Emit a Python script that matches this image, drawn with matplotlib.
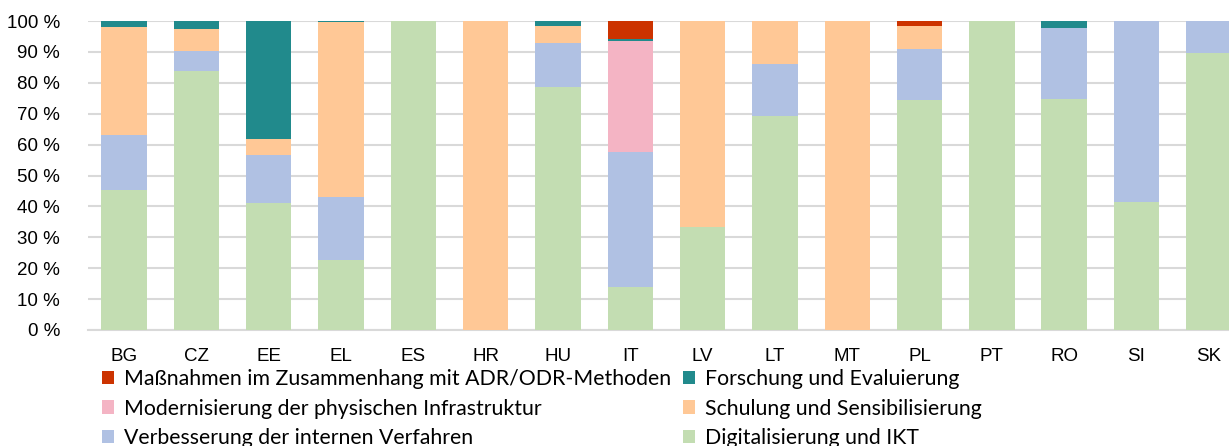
import numpy as np
import matplotlib
matplotlib.use('Agg')
from matplotlib import pyplot as plt
from matplotlib.patches import Patch

# data (percent shares per country)
countries = ['BG', 'CZ', 'EE', 'EL', 'ES', 'HR', 'HU', 'IT', 'LV', 'LT', 'MT', 'PL', 'PT', 'RO', 'SI', 'SK']
digital   = [45.2, 83.8, 41.0, 22.7, 100, 0, 78.5, 13.8, 33.3, 69.2, 0, 74.3, 100, 74.8, 41.3, 89.5]
verfahren = [18.0, 6.5, 15.5, 20.3, 0, 0, 14.4, 43.7, 0, 17.0, 0, 16.5, 0, 22.8, 58.7, 10.5]
infra     = [0, 0, 0, 0, 0, 0, 0, 35.9, 0, 0, 0, 0, 0, 0, 0, 0]
schulung  = [34.9, 7.1, 5.2, 56.8, 0, 100, 5.5, 0, 66.7, 13.8, 100, 7.7, 0, 0, 0, 0]
forschung = [1.9, 2.6, 38.3, 0.2, 0, 0, 1.6, 0.7, 0, 0, 0, 0, 0, 2.4, 0, 0]
adr       = [0, 0, 0, 0, 0, 0, 0, 5.9, 0, 0, 0, 1.5, 0, 0, 0, 0]

labels = ['Digitalisierung und IKT', 'Verbesserung der internen Verfahren',
          'Modernisierung der physischen Infrastruktur', 'Schulung und Sensibilisierung',
          'Forschung und Evaluierung', 'Maßnahmen im Zusammenhang mit ADR/ODR-Methoden']
colors = ['#C3DDB2', '#B0C1E3', '#F4B4C4', '#FFC896', '#218A8C', '#CC3300']
series = [digital, verfahren, infra, schulung, forschung, adr]

fig = plt.figure(figsize=(12.29, 4.46), dpi=100)
ax = fig.add_axes([88/1229, 116/446, (1229-88)/1229, 309/446])

x = np.arange(len(countries))
bottom = np.zeros(len(countries))
for vals, col in zip(series, colors):
    vals = np.array(vals, dtype=float)
    ax.bar(x, vals, 0.627, bottom=bottom, color=col, edgecolor='none', zorder=3)
    bottom += vals

ax.set_ylim(0, 100)
ax.set_xlim(-0.5, 15.28)
ax.set_yticks(np.arange(0, 101, 10))
ax.set_yticklabels([f'{v} %' for v in range(0, 101, 10)], fontsize=13.5, family='Liberation Sans')
ax.set_xticks(x)
ax.set_xticklabels(countries, fontsize=13.5, family='Liberation Sans')
ax.tick_params(length=0)
ax.tick_params(axis='y', pad=20)
ax.tick_params(axis='x', pad=13)
ax.grid(axis='y', color='#D9D9D9', linewidth=1.5, zorder=0)
ax.set_axisbelow(True)
for s in ['top', 'right', 'left']:
    ax.spines[s].set_visible(False)
ax.spines['bottom'].set_color('#D9D9D9')
ax.spines['bottom'].set_linewidth(1.5)

# legend: rows are (ADR, Forschung), (Infra, Schulung), (Verfahren, Digital)
order = [5, 2, 1, 4, 3, 0]
handles = [Patch(facecolor=colors[i], edgecolor='none', label=labels[i]) for i in order]
fig.legend(handles=handles, ncol=2, loc='upper left', bbox_to_anchor=(102/1229, 1 - 369/446),
           frameon=False, handlelength=0.58, handleheight=0.58, handletextpad=0.45,
           columnspacing=0.55, labelspacing=0.45, borderpad=0, borderaxespad=0,
           prop={'family': 'Lato', 'size': 15.3})

fig.savefig('out.png', dpi=100)
